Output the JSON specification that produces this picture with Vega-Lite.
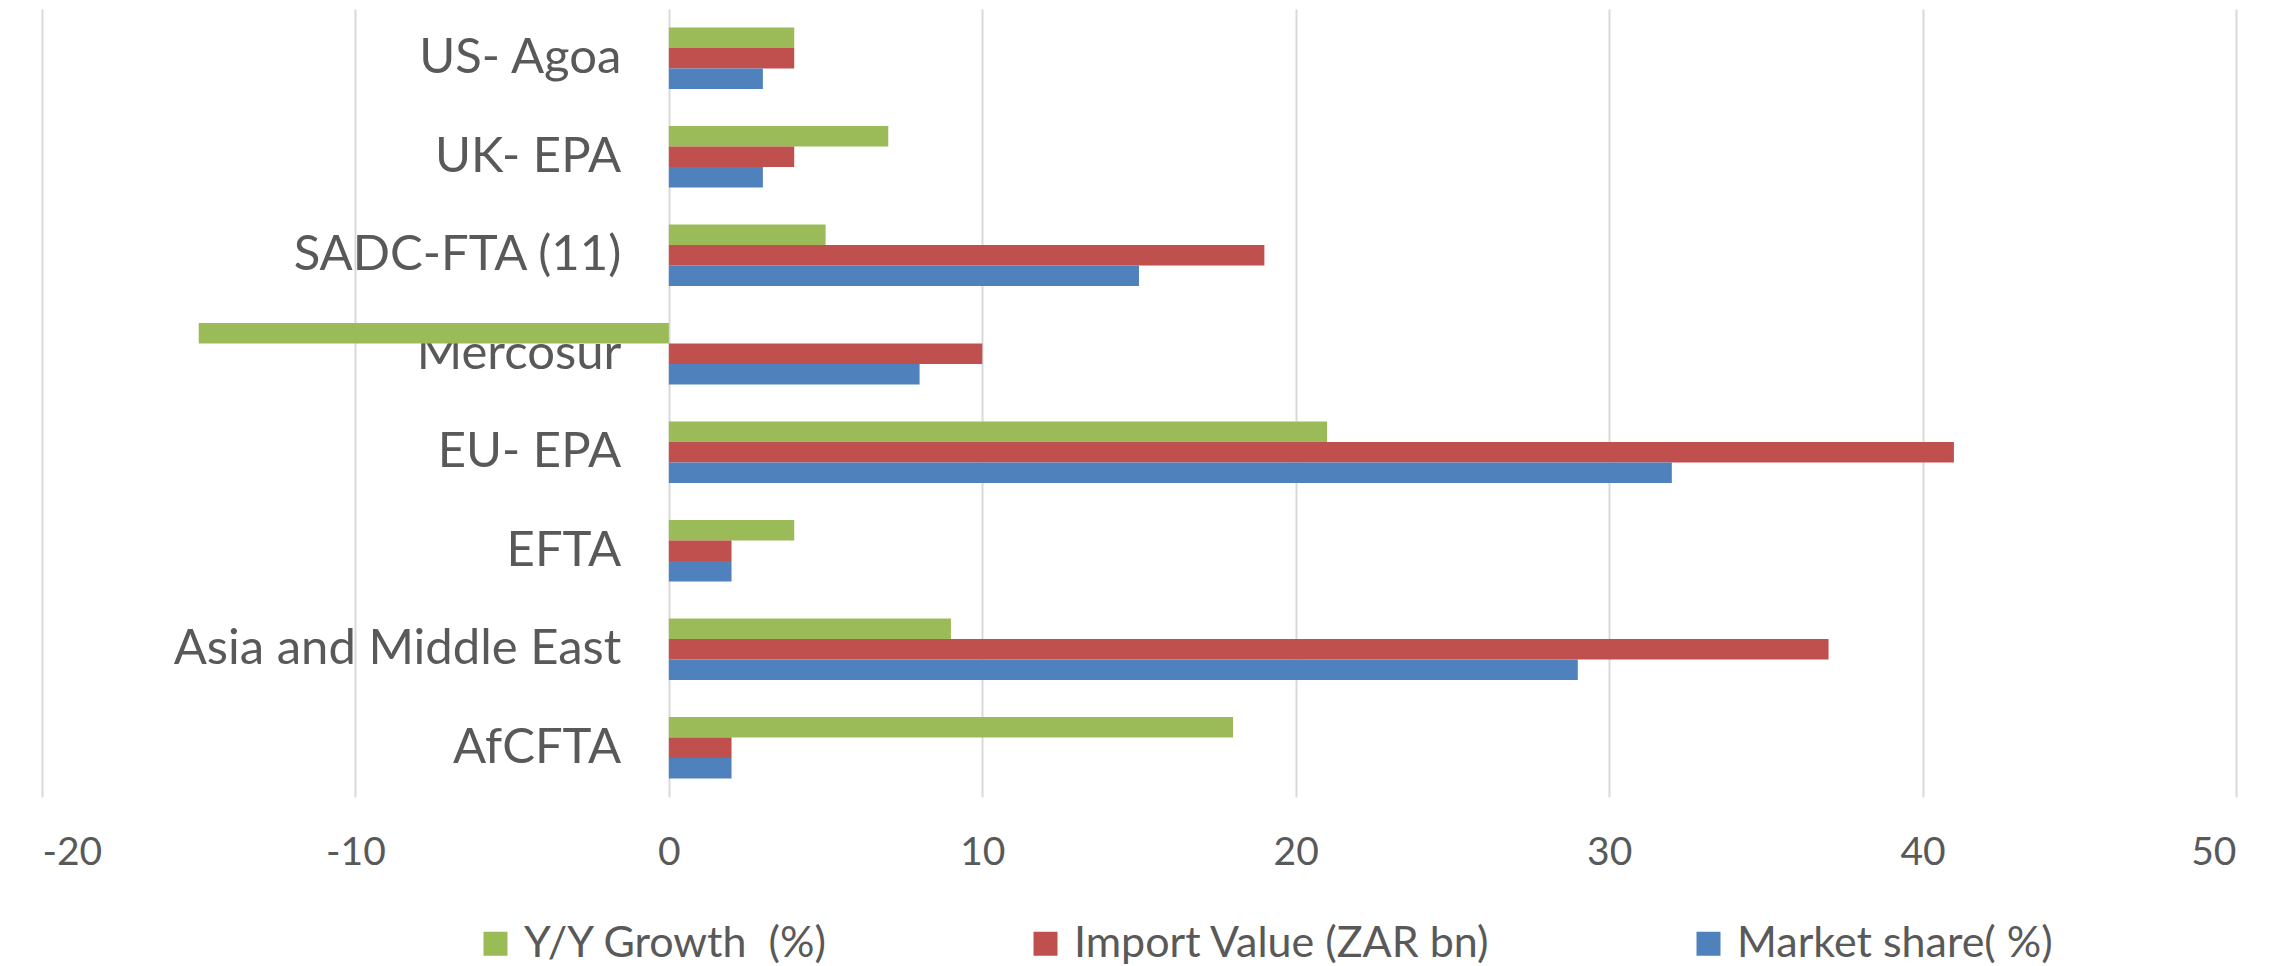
{
  "$schema": "https://vega.github.io/schema/vega-lite/v6.json",
  "autosize": {"type": "none"},
  "width": 2194,
  "height": 788,
  "padding": {"left": 42, "top": 9, "right": 43, "bottom": 169},
  "background": "white",
  "config": {
    "view": {"stroke": null},
    "font": "Lato"
  },
  "data": {
    "values": [
      {"agreement": "US- Agoa", "series": "Y/Y Growth \u00a0(%)", "value": 4},
      {"agreement": "US- Agoa", "series": "Import Value (ZAR bn)", "value": 4},
      {"agreement": "US- Agoa", "series": "Market share( %)", "value": 3},
      {"agreement": "UK- EPA", "series": "Y/Y Growth \u00a0(%)", "value": 7},
      {"agreement": "UK- EPA", "series": "Import Value (ZAR bn)", "value": 4},
      {"agreement": "UK- EPA", "series": "Market share( %)", "value": 3},
      {"agreement": "SADC-FTA (11)", "series": "Y/Y Growth \u00a0(%)", "value": 5},
      {"agreement": "SADC-FTA (11)", "series": "Import Value (ZAR bn)", "value": 19},
      {"agreement": "SADC-FTA (11)", "series": "Market share( %)", "value": 15},
      {"agreement": "Mercosur", "series": "Y/Y Growth \u00a0(%)", "value": -15},
      {"agreement": "Mercosur", "series": "Import Value (ZAR bn)", "value": 10},
      {"agreement": "Mercosur", "series": "Market share( %)", "value": 8},
      {"agreement": "EU- EPA", "series": "Y/Y Growth \u00a0(%)", "value": 21},
      {"agreement": "EU- EPA", "series": "Import Value (ZAR bn)", "value": 41},
      {"agreement": "EU- EPA", "series": "Market share( %)", "value": 32},
      {"agreement": "EFTA", "series": "Y/Y Growth \u00a0(%)", "value": 4},
      {"agreement": "EFTA", "series": "Import Value (ZAR bn)", "value": 2},
      {"agreement": "EFTA", "series": "Market share( %)", "value": 2},
      {"agreement": "Asia and Middle East", "series": "Y/Y Growth \u00a0(%)", "value": 9},
      {"agreement": "Asia and Middle East", "series": "Import Value (ZAR bn)", "value": 37},
      {"agreement": "Asia and Middle East", "series": "Market share( %)", "value": 29},
      {"agreement": "AfCFTA", "series": "Y/Y Growth \u00a0(%)", "value": 18},
      {"agreement": "AfCFTA", "series": "Import Value (ZAR bn)", "value": 2},
      {"agreement": "AfCFTA", "series": "Market share( %)", "value": 2}
    ]
  },
  "mark": {"type": "bar"},
  "encoding": {
    "y": {
      "field": "agreement",
      "type": "nominal",
      "sort": ["US- Agoa", "UK- EPA", "SADC-FTA (11)", "Mercosur", "EU- EPA", "EFTA", "Asia and Middle East", "AfCFTA"],
      "scale": {"paddingInner": 0.378, "paddingOuter": 0.189},
      "axis": {
        "title": null,
        "domain": false,
        "ticks": false,
        "tickSize": 0,
        "offset": -626.8,
        "labelPadding": 48,
        "labelFontSize": 49,
        "labelColor": "#595959",
        "labelLimit": 800,
        "grid": false
      }
    },
    "yOffset": {
      "field": "series",
      "type": "nominal",
      "sort": ["Y/Y Growth \u00a0(%)", "Import Value (ZAR bn)", "Market share( %)"],
      "scale": {"paddingInner": 0, "paddingOuter": 0}
    },
    "x": {
      "field": "value",
      "type": "quantitative",
      "scale": {"domain": [-20, 50], "nice": false, "zero": false},
      "axis": {
        "title": null,
        "values": [-20, -10, 0, 10, 20, 30, 40, 50],
        "labelExpr": "toString(datum.value)",
        "domain": false,
        "ticks": false,
        "tickSize": 0,
        "labelPadding": 55,
        "labelBaseline": "middle",
        "labelFontSize": 39,
        "labelColor": "#595959",
        "grid": true,
        "gridColor": "#D9D9D9",
        "gridWidth": 2
      }
    },
    "color": {
      "field": "series",
      "type": "nominal",
      "sort": ["Y/Y Growth \u00a0(%)", "Import Value (ZAR bn)", "Market share( %)"],
      "scale": {
        "domain": ["Y/Y Growth \u00a0(%)", "Import Value (ZAR bn)", "Market share( %)"],
        "range": ["#9BBB59", "#C0504D", "#4F81BD"]
      },
      "legend": {
        "title": null,
        "orient": "none",
        "direction": "horizontal",
        "legendX": 432,
        "legendY": 913,
        "padding": 0,
        "symbolType": "square",
        "symbolSize": 576,
        "symbolStrokeWidth": 0,
        "labelFontSize": 43,
        "labelColor": "#595959",
        "labelOffset": 7,
        "labelLimit": 600,
        "columnPadding": 196
      }
    }
  }
}
